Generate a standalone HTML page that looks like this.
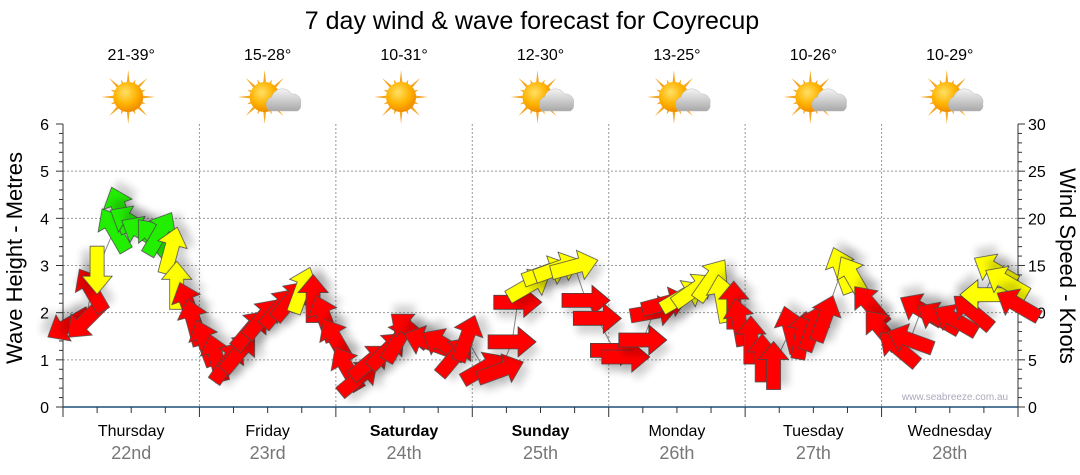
<!DOCTYPE html>
<html><head><meta charset="utf-8">
<style>
body{margin:0;background:#fff;}
svg{display:block;font-family:"Liberation Sans",sans-serif;}
</style></head>
<body>
<svg id="chart" width="1080" height="475" viewBox="0 0 1080 475">
<defs>
<filter id="sh" x="-50%" y="-50%" width="200%" height="200%"><feGaussianBlur in="SourceAlpha" stdDeviation="4"/><feOffset dx="4" dy="8"/><feComponentTransfer><feFuncA type="linear" slope="0.18"/></feComponentTransfer><feMerge><feMergeNode/><feMergeNode in="SourceGraphic"/></feMerge></filter>
<radialGradient id="sunG" cx="40%" cy="35%" r="65%"><stop offset="0" stop-color="#ffe066"/><stop offset="0.6" stop-color="#ffb300"/><stop offset="1" stop-color="#f08c00"/></radialGradient>
<linearGradient id="cloudG" x1="0" y1="0" x2="0" y2="1"><stop offset="0" stop-color="#f4f4f4"/><stop offset="1" stop-color="#a8a8a8"/></linearGradient>
</defs>
<text x="532" y="29" text-anchor="middle" font-size="25" fill="#000">7 day wind &amp; wave forecast for Coyrecup</text>
<g id="grid"></g>
<g id="axes"></g>
<g id="weather"></g>
<g id="series"></g>
<text x="955" y="400" text-anchor="middle" font-size="10" fill="#aab">www.seabreeze.com.au</text>
<text transform="translate(22,258) rotate(-90)" text-anchor="middle" font-size="22" fill="#000">Wave Height - Metres</text>
<text transform="translate(1060,266) rotate(90)" text-anchor="middle" font-size="22" fill="#000">Wind Speed - Knots</text>
</svg>
<script>
const days = ["Thursday","Friday","Saturday","Sunday","Monday","Tuesday","Wednesday"];
const dates = ["22nd","23rd","24th","25th","26th","27th","28th"];
const boldDays = [false,false,true,true,false,false,false];
const temps = ["21-39°","15-28°","10-31°","12-30°","13-25°","10-26°","10-29°"];
const cloudy = [false,true,false,true,true,true,true];
const waveTicks = [0,1,2,3,4,5,6];
const windTicks = [0,5,10,15,20,25,30];
const hours = [1,4,5,6,9,10,12,14,16,17,19,20,22,23,25,27,29,31,33,35,38,40,42,44,46,48,50,52,54,57,59,61,64,67,69,71,74,77,79,80,82,85,87,90,92,94,97,99,102,104,106,109,111,114,116,118,119,121,123,125,128,130,132,134,137,139,142,144,147,149,151,154,157,160,162,164,166,168];
const knots = [8.7,9.2,12.4,14.5,18.8,20.9,19.6,18.5,17.9,18.4,16.6,12.9,10.8,9,6.8,5.2,4.8,5.8,8.2,9.4,10.5,11.3,12.4,11.5,9.4,7.1,4.1,3.1,4.8,6,7.1,8.2,6.9,6.6,5.4,7.3,4.1,3.9,6.9,11.1,12.9,14.3,14.7,14.9,11.3,9.4,6,5.3,7.1,10.1,11,11.7,12.4,13.5,11.5,10.8,9,7.1,5.2,4.4,8.2,7.6,8.4,9.4,14.5,13.7,10.8,8.2,6.2,7.1,10.3,9.4,9.2,10.1,11.9,14.5,13.2,10.8];
const dirs = [240,225,330,180,330,340,300,300,320,30,15,0,340,345,340,345,35,40,40,40,40,40,20,0,340,330,330,50,50,45,30,310,290,300,40,20,60,70,90,90,60,70,70,75,90,90,90,90,90,80,75,60,55,35,350,0,350,0,0,0,345,10,20,20,340,330,320,320,310,290,300,300,300,310,270,300,300,300];
const cats = ["r","r","r","y","g","g","g","g","g","g","y","y","r","r","r","r","r","r","r","r","r","r","y","r","r","r","r","r","r","r","r","r","r","r","r","r","r","r","r","r","y","y","y","y","r","r","r","r","r","r","r","y","y","y","y","r","r","r","r","r","r","r","r","r","y","y","r","r","r","r","r","r","r","r","y","y","y","r"];

const NS="http://www.w3.org/2000/svg";
const X0=63,X1=1018,Y0=407,Y1=124;
function xH(h){return X0+(X1-X0)*h/168;}
function yW(m){return Y0-(Y0-Y1)*m/6;}
function yK(k){return Y0-(Y0-Y1)*k/30;}
function mk(tag,attrs,parent){const e=document.createElementNS(NS,tag);for(const k in attrs)e.setAttribute(k,attrs[k]);parent.appendChild(e);return e;}
const grid=document.getElementById('grid'),axes=document.getElementById('axes'),wx=document.getElementById('weather'),ser=document.getElementById('series');

waveTicks.forEach(v=>{
  if(v>0&&v<6){const l=mk('line',{x1:X0,x2:X1,y1:yW(v),y2:yW(v),stroke:'#999','stroke-dasharray':'2,2','stroke-width':1},grid);
  
  }
  const t=mk('text',{x:49,y:yW(v)+6,'text-anchor':'end','font-size':16,fill:'#000'},axes);t.textContent=v;
  
  
});
for(let i=0;i<=30;i++){const y=yW(i*0.2);mk('line',{x1:X0-(i%5==0?7:4),x2:X0,y1:y,y2:y,stroke:'#333'},axes);}
windTicks.forEach(v=>{
  const t=mk('text',{x:1028,y:yK(v)+6,'font-size':16,fill:'#000'},axes);t.textContent=v;
  
  
});
for(let i=0;i<=30;i++){const y=yK(i);mk('line',{x1:X1,x2:X1+(i%5==0?7:4),y1:y,y2:y,stroke:'#333'},axes);}
mk('line',{x1:X0,x2:X0,y1:Y1,y2:Y0,stroke:'#333'},axes);
mk('line',{x1:X1,x2:X1,y1:Y1,y2:Y0,stroke:'#333'},axes);
mk('line',{x1:X0,x2:X1,y1:Y0,y2:Y0,stroke:'#1f4e79','stroke-width':1.5},axes);
for(let h=0;h<=168;h+=6){const x=xH(h);mk('line',{x1:x,x2:x,y1:Y0,y2:Y0+(h%24==0?10:6),stroke:'#333'},axes);}
days.forEach((d,i)=>{
  const xc=xH(i*24+12);
  if(i>0){const l=mk('line',{x1:xH(i*24),x2:xH(i*24),y1:Y1,y2:Y0,stroke:'#999','stroke-dasharray':'2,2'},grid);
  
  }
  const t=mk('text',{x:xc,y:436,'text-anchor':'middle','font-size':16,fill:'#000','font-weight':boldDays[i]?'bold':'normal'},axes);t.textContent=d;
  
  
  const t2=mk('text',{x:xc,y:459,'text-anchor':'middle','font-size':18,fill:'#777'},axes);t2.textContent=dates[i];
  
  
  const t3=mk('text',{x:xc,y:60,'text-anchor':'middle','font-size':16,fill:'#000'},wx);t3.textContent=temps[i];
  
  
  const g=mk('g',{transform:`translate(${xc-3},97)`},wx);
  
  
  for(let a=0;a<16;a++){const ang=a*22.5*Math.PI/180,L=a%2?19:27;
    mk('path',{d:`M${Math.cos(ang-0.12)*13},${Math.sin(ang-0.12)*13} L${Math.cos(ang)*L},${Math.sin(ang)*L} L${Math.cos(ang+0.12)*13},${Math.sin(ang+0.12)*13}Z`,fill:'#f5a623'},g);}
  mk('circle',{cx:0,cy:0,r:15,fill:'url(#sunG)'},g);
  if(cloudy[i]){mk('path',{d:'M5,14 a8,8 0 0 1 2,-14 a11,11 0 0 1 20,-3 a8,8 0 0 1 9,10 a6,6 0 0 1 -3,7 Z',fill:'url(#cloudG)',stroke:'#bbb','stroke-width':0.5},g);}
});

let d='';hours.forEach((h,i)=>{d+=(i?'L':'M')+xH(h)+','+yK(knots[i]);});
const pl=mk('path',{d:d,fill:'none',stroke:'#888','stroke-width':1},ser);


const col={r:'#ff0000',y:'#ffff00',g:'#22ee00'};
hours.forEach((h,i)=>{
  const a=mk('path',{d:'M-24,-7 L6,-7 L6,-15 L24,0 L6,15 L6,7 L-24,7 Z',fill:col[cats[i]],stroke:'#444','stroke-width':0.8,filter:'url(#sh)',
    transform:`translate(${xH(h)},${yK(knots[i])}) rotate(${dirs[i]-90})`},ser);
  
  
});
</script>
</body></html>
